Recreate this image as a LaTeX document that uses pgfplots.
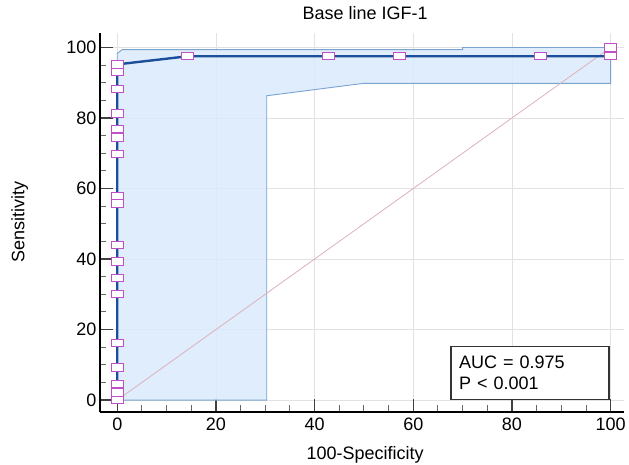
\documentclass[border=0pt]{standalone}
\usepackage{pgfplots}
\pgfplotsset{compat=1.18}
\usepackage{fontspec}
\setmainfont{Liberation Sans}

\definecolor{bandfill}{HTML}{DAEAFB}
\definecolor{bandedge}{HTML}{7BA3D0}
\definecolor{roccurve}{HTML}{1B4F9C}
\definecolor{markedge}{HTML}{C050C8}
\definecolor{diagline}{HTML}{DDB0BE}
\definecolor{gridgrey}{HTML}{E2E2E2}

\begin{document}
\begin{tikzpicture}
\useasboundingbox (-100pt,-53.3pt) rectangle (529pt,411.7pt);
\begin{axis}[
    scale only axis,
    width=524pt,
    height=378.7pt,
    xmin=-3.5, xmax=102.7,
    ymin=-3.3, ymax=104.1,
    xtick={0,20,...,100},
    ytick={0,20,...,100},
    minor tick num=3,
    axis lines*=left,
    tick pos=left,
    tick align=inside,
    major tick length=13pt,
    minor tick length=6.5pt,
    axis line style={line width=2.2pt, black},
    every major tick/.style={line width=1.3pt, black!75},
    every minor tick/.style={line width=1pt, black!60},
    grid=major,
    major grid style={gridgrey, line width=0.8pt},
    /pgf/number format/assume math mode=true,
    tick label style={font=\fontsize{18}{21}\selectfont},
    xticklabel style={yshift=-3pt},
    label style={font=\fontsize{18}{21}\selectfont},
    xlabel style={at={(axis description cs:0.506,-0.114)}, anchor=center},
    ylabel style={at={(axis description cs:-0.153,0.5)}, anchor=center},
    title style={font=\fontsize{18}{21}\selectfont,
                 at={(axis description cs:0.506,1.036)}, anchor=center},
    title={Base line IGF-1},
    xlabel={100-Specificity},
    ylabel={Sensitivity},
    clip=false,
]
% confidence band
\addplot[fill=bandfill, fill opacity=0.85, draw=bandedge, line width=0.9pt]
    coordinates {(0,0) (0,98.3) (1,99.4) (70,99.4) (70,100) (100,100)
                 (100,89.8) (49.8,89.8) (30.3,86.3) (30.3,0)} -- cycle;
% reference diagonal
\addplot[diagline, line width=0.8pt] coordinates {(0,0) (100,100)};
% ROC curve
\addplot[roccurve, line width=2.4pt] coordinates {
    (0,0) (0,95.2) (14.29,97.5) (100,97.5) (100,100)};
% criterion markers
\addplot[only marks, mark=square*, mark size=3.7pt,
         mark options={xscale=1.6, fill=white, draw=markedge, line width=1pt}]
    coordinates {
    (0,0) (0,2.2) (0,4.5) (0,9.2) (0,16.1) (0,30.0) (0,34.6) (0,39.3)
    (0,43.9) (0,55.8) (0,57.9) (0,69.7) (0,74.5) (0,76.8) (0,81.3)
    (0,88.2) (0,93.1) (0,95.2)
    (14.29,97.5) (42.86,97.5) (57.14,97.5) (85.71,97.5) (100,97.5)
    (100,100)};
\node[draw=black!80, line width=1.3pt, fill=white, anchor=south east,
      align=left, font=\fontsize{18}{21}\selectfont,
      minimum width=158pt, minimum height=53pt, text width=142pt]
    at (axis cs:99.8,0) {AUC = 0.975\\P < 0.001};
\end{axis}
\end{tikzpicture}
\end{document}
